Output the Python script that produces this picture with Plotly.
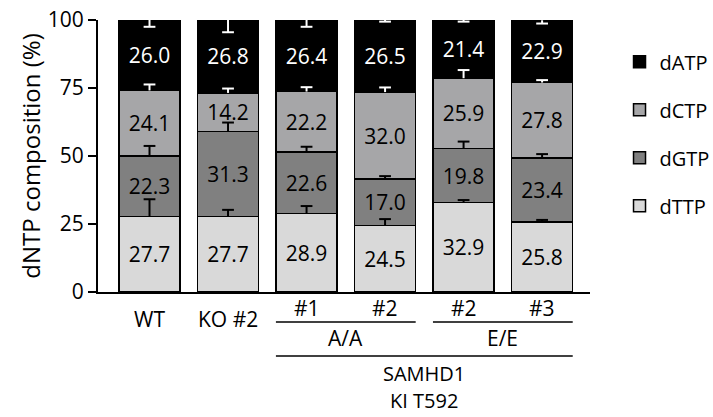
import numpy as np
import plotly.graph_objects as go

categories = ["WT", "KO #2", "A/A #1", "A/A #2", "E/E #2", "E/E #3"]
tick_top = ["", "", "#1", "#2", "#2", "#3"]
tick_low = ["WT", "KO #2", "", "", "", ""]

dTTP = [27.7, 27.7, 28.9, 24.5, 32.9, 25.8]
dGTP = [22.3, 31.3, 22.6, 17.0, 19.8, 23.4]
dCTP = [24.1, 14.2, 22.2, 32.0, 25.9, 27.8]
dATP = [26.0, 26.8, 26.4, 26.5, 21.4, 22.9]

err_dTTP = [6.4, 2.5, 2.7, 2.3, 0.9, 0.7]
err_dGTP = [3.7, 3.3, 1.9, 1.1, 2.6, 1.5]
err_dCTP = [2.2, 1.6, 1.6, 1.7, 3.0, 0.9]
err_dATP = [2.5, 4.5, 2.5, 0.6, 0.6, 1.2]

series = [
    ("dTTP", dTTP, err_dTTP, "#d9d9d9", "black", 1, "black", 4),
    ("dGTP", dGTP, err_dGTP, "#808080", "black", 1, "black", 3),
    ("dCTP", dCTP, err_dCTP, "#a6a6a8", "black", 1, "white", 2),
    ("dATP", dATP, err_dATP, "#000000", "white", -1, "white", 1),
]

FONT = "Open Sans"
CAP = 0.075  # half-width of error-bar caps, in category units
fig = go.Figure()
x = list(range(len(categories)))

for name, vals, errs, col, tcol, direction, ecol, rank in series:
    fig.add_trace(go.Bar(
        x=x, y=vals, name=name, legendgroup=name, legendrank=rank,
        marker=dict(color=col, line=dict(color="black", width=1.5)),
        text=[f"{v:.1f}" for v in vals], textposition="inside",
        insidetextanchor="middle", textangle=0,
        textfont=dict(family=FONT, size=21, color=tcol),
    ))

cum = np.zeros(len(categories))
for name, vals, errs, col, tcol, direction, ecol, rank in series:
    cum = cum + np.array(vals)
    top = np.minimum(cum, 100)
    ex, ey = [], []
    for xi, t, e in zip(x, top, errs):
        end = t + direction * e
        ex += [xi, xi, None, xi - CAP, xi + CAP, None]
        ey += [t, end, None, end, end, None]
    fig.add_trace(go.Scatter(
        x=ex, y=ey, mode="lines", line=dict(color=ecol, width=2),
        showlegend=False, hoverinfo="skip", cliponaxis=False,
    ))

def label(xv, yv, text, size=21):
    return dict(x=xv, y=yv, xref="x", yref="paper", text=text, showarrow=False,
                xanchor="center", yanchor="middle",
                font=dict(family=FONT, size=size, color="black"))

annotations = []
for i in x:
    if tick_top[i]:
        annotations.append(label(i, -0.059, tick_top[i]))
    if tick_low[i]:
        annotations.append(label(i, -0.100, tick_low[i]))

groups = [("A/A", 2, 3), ("E/E", 4, 5)]
half = 0.39
shapes = []
for name, a, b in groups:
    shapes.append(dict(type="line", xref="x", yref="paper", x0=a - half, x1=b + half,
                       y0=-0.110, y1=-0.110, line=dict(color="black", width=1.5)))
    annotations.append(label((a + b) / 2, -0.169, name))
shapes.append(dict(type="line", xref="x", yref="paper", x0=2 - half, x1=5 + half,
                   y0=-0.235, y1=-0.235, line=dict(color="black", width=1.5)))
annotations.append(label(3.5, -0.300, "SAMHD1", size=20))
annotations.append(label(3.5, -0.400, "KI T592", size=20))

fig.update_layout(
    width=713, height=417,
    margin=dict(l=98, r=123, t=20, b=125, autoexpand=False),
    barmode="stack", bargap=0.22,
    plot_bgcolor="white", paper_bgcolor="white",
    font=dict(family=FONT, size=20, color="black"),
    showlegend=True,
    legend=dict(x=1.06, xanchor="left", y=0.918, yanchor="top",
                traceorder="grouped", tracegroupgap=19,
                font=dict(family=FONT, size=20, color="black"),
                bgcolor="rgba(0,0,0,0)"),
    annotations=annotations, shapes=shapes,
)
fig.update_xaxes(range=[-0.656, 5.61], showticklabels=False, ticks="", automargin=False,
                 showline=True, linecolor="black", linewidth=2, showgrid=False, zeroline=False)
fig.update_yaxes(range=[0, 100], tickvals=[0, 25, 50, 75, 100], ticks="outside", automargin=False,
                 ticklen=8, tickwidth=2, tickcolor="black",
                 showline=True, linecolor="black", linewidth=2, showgrid=False, zeroline=False,
                 tickfont=dict(family=FONT, size=21, color="black"),
                 title=dict(text="dNTP composition (%)", font=dict(family=FONT, size=24, color="black"),
                            standoff=0))

fig.write_html("out.html", config={"displayModeBar": False},
               post_script="document.body.style.margin='0px';")
